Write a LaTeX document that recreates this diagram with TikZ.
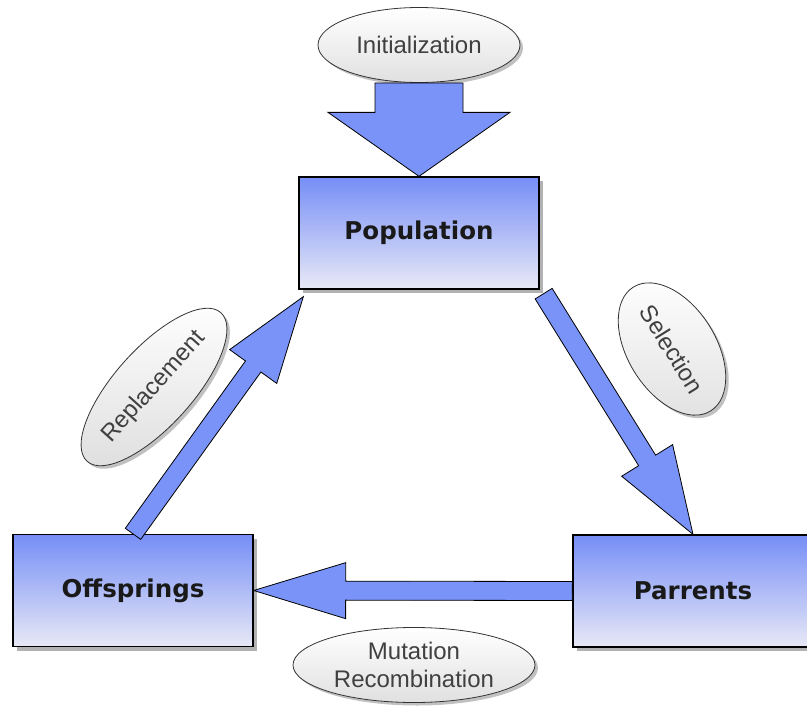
\documentclass[tikz,border=0pt]{standalone}
\usepackage{fontspec}
\setmainfont{Liberation Sans}
\newfontfamily\boxfont{DejaVu Sans}
\usetikzlibrary{calc, shapes.geometric, shadows}

\definecolor{arrowblue}{RGB}{122,147,248}
\definecolor{boxtop}{RGB}{118,142,246}
\definecolor{boxbottom}{RGB}{232,233,246}
\definecolor{labelgray}{RGB}{64,64,64}

% fat outlined arrow: foot, tip, half shaft, half head, head length
\newcommand{\blockarrow}[5]{%
    \coordinate (ba-h) at ($(#2)!#5!(#1)$);
    \draw [flow] ($(#1)!#3!90:(#2)$) -- ($(ba-h)!#3!90:(#2)$) -- ($(ba-h)!#4!90:(#2)$) -- (#2)
        -- ($(ba-h)!#4!-90:(#2)$) -- ($(ba-h)!#3!-90:(#2)$) -- ($(#1)!#3!-90:(#2)$) -- cycle;
}

\begin{document}
\begin{tikzpicture}[x=1pt, y=-1pt,
    stage/.style={rectangle, draw=black, line width=1.3pt, minimum width=240pt, minimum height=112pt,
        top color=boxtop, bottom color=boxbottom,
        drop shadow={shadow xshift=4pt, shadow yshift=-4pt, fill=black!30, opacity=1},
        font=\boxfont\bfseries\fontsize{24.5}{28}\selectfont, text=black!90},
    tag/.style={ellipse, draw=black!80, line width=0.8pt, inner sep=0pt,
        top color=white, bottom color=black!12,
        drop shadow={shadow xshift=3pt, shadow yshift=-3pt, fill=black!30, opacity=0.8},
        font=\fontsize{24}{28}\selectfont, text=labelgray, align=center},
    flow/.style={draw=black, line width=0.8pt, fill=arrowblue, line join=miter}]
    \useasboundingbox (0,0) rectangle (807,707);

    \node [stage] (pop) at (419,233) {Population};
    \node [stage] (off) at (133,590.5) {Offsprings};
    \node [stage] (par) at (693,591) {Parrents};

    \node [tag, minimum width=202pt, minimum height=75pt] (init) at (419,45) {Initialization};
    \node [tag, minimum width=146pt, minimum height=88pt, rotate=-58] (sel) at (672,349) {Selection};
    \node [tag, minimum width=195pt, minimum height=78pt, rotate=48] (rep) at (154,387) {Replacement};
    \node [tag, minimum width=242pt, minimum height=75pt] (mut) at (414,665) {Mutation\\Recombination};

    \blockarrow{init.south}{pop.north}{44pt}{91pt}{64pt}
    \coordinate (selfoot) at ($(pop.south east)+(4,4)$);
    \blockarrow{selfoot}{par.north}{10pt}{30pt}{87pt}
    \blockarrow{par.west}{off.east}{9.5pt}{28pt}{92pt}
    \coordinate (reptip) at ($(pop.south west)+(5,7)$);
    \blockarrow{off.north}{reptip}{9.5pt}{29pt}{86pt}
\end{tikzpicture}
\end{document}
